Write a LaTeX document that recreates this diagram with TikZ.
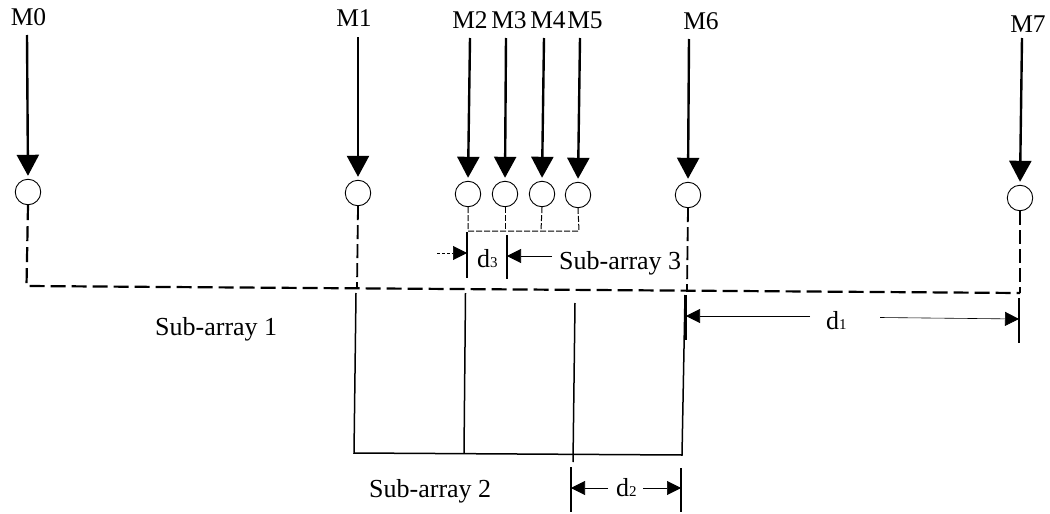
\documentclass[tikz,border=0pt]{standalone}
\usepackage{fontspec}
\setmainfont{Liberation Serif}
\usetikzlibrary{arrows.meta}
\tikzset{
  x=1pt,y=-1pt,
  mic/.style={circle,draw=black,line width=0.9pt,minimum size=25.5pt,inner sep=0pt},
  lab/.style={font=\fontsize{25.5}{27}\selectfont,inner sep=0pt,anchor=base},
  sublab/.style={font=\fontsize{26}{28}\selectfont,inner sep=0pt,anchor=base west},
  feed/.style={line width=2.4pt,-{Triangle[length=21pt,width=22pt]},shorten >=3pt},
  bigdash/.style={line width=2.2pt,dash pattern=on 15pt off 6pt},
  meddash/.style={line width=1.8pt,dash pattern=on 14pt off 5pt},
  smalldash/.style={line width=1pt,dash pattern=on 6pt off 2pt},
  solidline/.style={line width=1.5pt},
  tick/.style={line width=1.4pt},
  dimarrow/.style={line width=0.6pt,-{Triangle[length=14pt,width=14pt]}},
}
\newcommand{\dsub}[1]{d{\fontsize{15}{16}\selectfont #1}}
\begin{document}
\begin{tikzpicture}
\useasboundingbox (0,0) rectangle (1050,514);
% microphones
\node[mic] (c0) at (28,192) {};
\node[mic] (c1) at (358,193) {};
\node[mic] (c2) at (468,194) {};
\node[mic] (c3) at (505,194) {};
\node[mic] (c4) at (542,194) {};
\node[mic] (c5) at (578,195) {};
\node[mic] (c6) at (688,195) {};
\node[mic] (c7) at (1020,198) {};
% labels
\node[lab] (m0) at (28.5,25) {M0};
\node[lab] (m1) at (354,26) {M1};
\node[lab] (m2) at (470,28) {M2};
\node[lab] (m3) at (509,28) {M3};
\node[lab] (m4) at (548,28) {M4};
\node[lab] (m5) at (585,28) {M5};
\node[lab] (m6) at (701,29) {M6};
\node[lab] (m7) at (1028,32) {M7};
% feed arrows
\coordinate (a0) at (27,35);
\coordinate (a1) at (358,37);
\coordinate (a2) at (470,38);
\coordinate (a3) at (506,38);
\coordinate (a4) at (544,38);
\coordinate (a5) at (580,38);
\coordinate (a6) at (689,39);
\coordinate (a7) at (1022,38);
\foreach \i in {0,...,7}{\draw[feed] (a\i) -- (c\i.north);}
% big dashed bus
\coordinate (busL) at (26.5,286);
\coordinate (bus1) at (357,288);
\coordinate (bus6) at (687,290);
\coordinate (busR) at (1020,293);
\draw[bigdash] (c0.south) -- (busL) -- (busR);
\draw[meddash] (c7.south) -- (busR);
\draw[meddash] (c1.south) -- (bus1);
\draw[meddash] (c6.south) -- (bus6);
% sub-array 3 bus
\coordinate (s2) at (468,231);
\coordinate (s3) at (505,231);
\coordinate (s4) at (541,231);
\coordinate (s5) at (579,231);
\draw[smalldash] (c2.south) -- (s2) -- (s5) -- (c5.south);
\draw[smalldash] (c3.south) -- (s3);
\draw[smalldash] (c4.south) -- (s4);
% sub-array 2
\coordinate (t1) at (356,293);
\coordinate (t2) at (465.5,293);
\coordinate (t3) at (575,303);
\coordinate (t6) at (685,295);
\coordinate (b1) at (354,453);
\coordinate (b2) at (464,453.5);
\coordinate (b3) at (573,454);
\coordinate (b3e) at (573,462);
\coordinate (b6) at (682,455);
\draw[solidline] (t1) -- (b1) -- (b6) -- (t6);
\draw[solidline] (t2) -- (b2);
\draw[solidline] (t3) -- (b3e);
% d3
\coordinate (d3a) at (467,232);
\coordinate (d3b) at (467,278);
\coordinate (d3c) at (507,235);
\coordinate (d3d) at (507,279);
\draw[tick] (d3a) -- (d3b);
\draw[tick] (d3c) -- (d3d);
\coordinate (d3l) at (467,253);
\coordinate (d3r) at (507,256);
\coordinate (d3lf) at (437,253);
\coordinate (d3rf) at (552,256);
\draw[dimarrow,densely dashed] (d3lf) -- (d3l);
\draw[dimarrow] (d3rf) -- (d3r);
\node[lab,font=\fontsize{26}{28}\selectfont,anchor=base west] (d3t) at (477,267) {\dsub{3}};
\node[sublab] (sa3) at (559,269) {Sub-array 3};
% d1
\coordinate (d1a) at (685.5,295);
\coordinate (d1b) at (685.5,340);
\coordinate (d1c) at (1019,298);
\coordinate (d1d) at (1019,343);
\draw[line width=2.6pt] (d1a) -- (d1b);
\draw[tick] (d1c) -- (d1d);
\node[lab,font=\fontsize{26}{28}\selectfont,anchor=base west] (d1t) at (826,329) {\dsub{1}};
\coordinate (d1l) at (686,316);
\coordinate (d1r) at (1019,319);
\coordinate (d1lf) at (810,316);
\coordinate (d1rf) at (880,317.5);
\draw[dimarrow] (d1lf) -- (d1l);
\draw[dimarrow] (d1rf) -- (d1r);
% d2
\coordinate (d2a) at (571,467);
\coordinate (d2b) at (571,512);
\coordinate (d2c) at (681,468);
\coordinate (d2d) at (681,512);
\draw[tick] (d2a) -- (d2b);
\draw[tick] (d2c) -- (d2d);
\coordinate (d2l) at (571,488);
\coordinate (d2r) at (681,488);
\coordinate (d2lf) at (608,488);
\coordinate (d2rf) at (643,488);
\draw[dimarrow] (d2lf) -- (d2l);
\draw[dimarrow] (d2rf) -- (d2r);
\node[lab,font=\fontsize{26}{28}\selectfont,anchor=base west] (d2t) at (616,496) {\dsub{2}};
% sub-array labels
\node[sublab] (sa1) at (155,335) {Sub-array 1};
\node[sublab] (sa2) at (369,497) {Sub-array 2};
\end{tikzpicture}
\end{document}
